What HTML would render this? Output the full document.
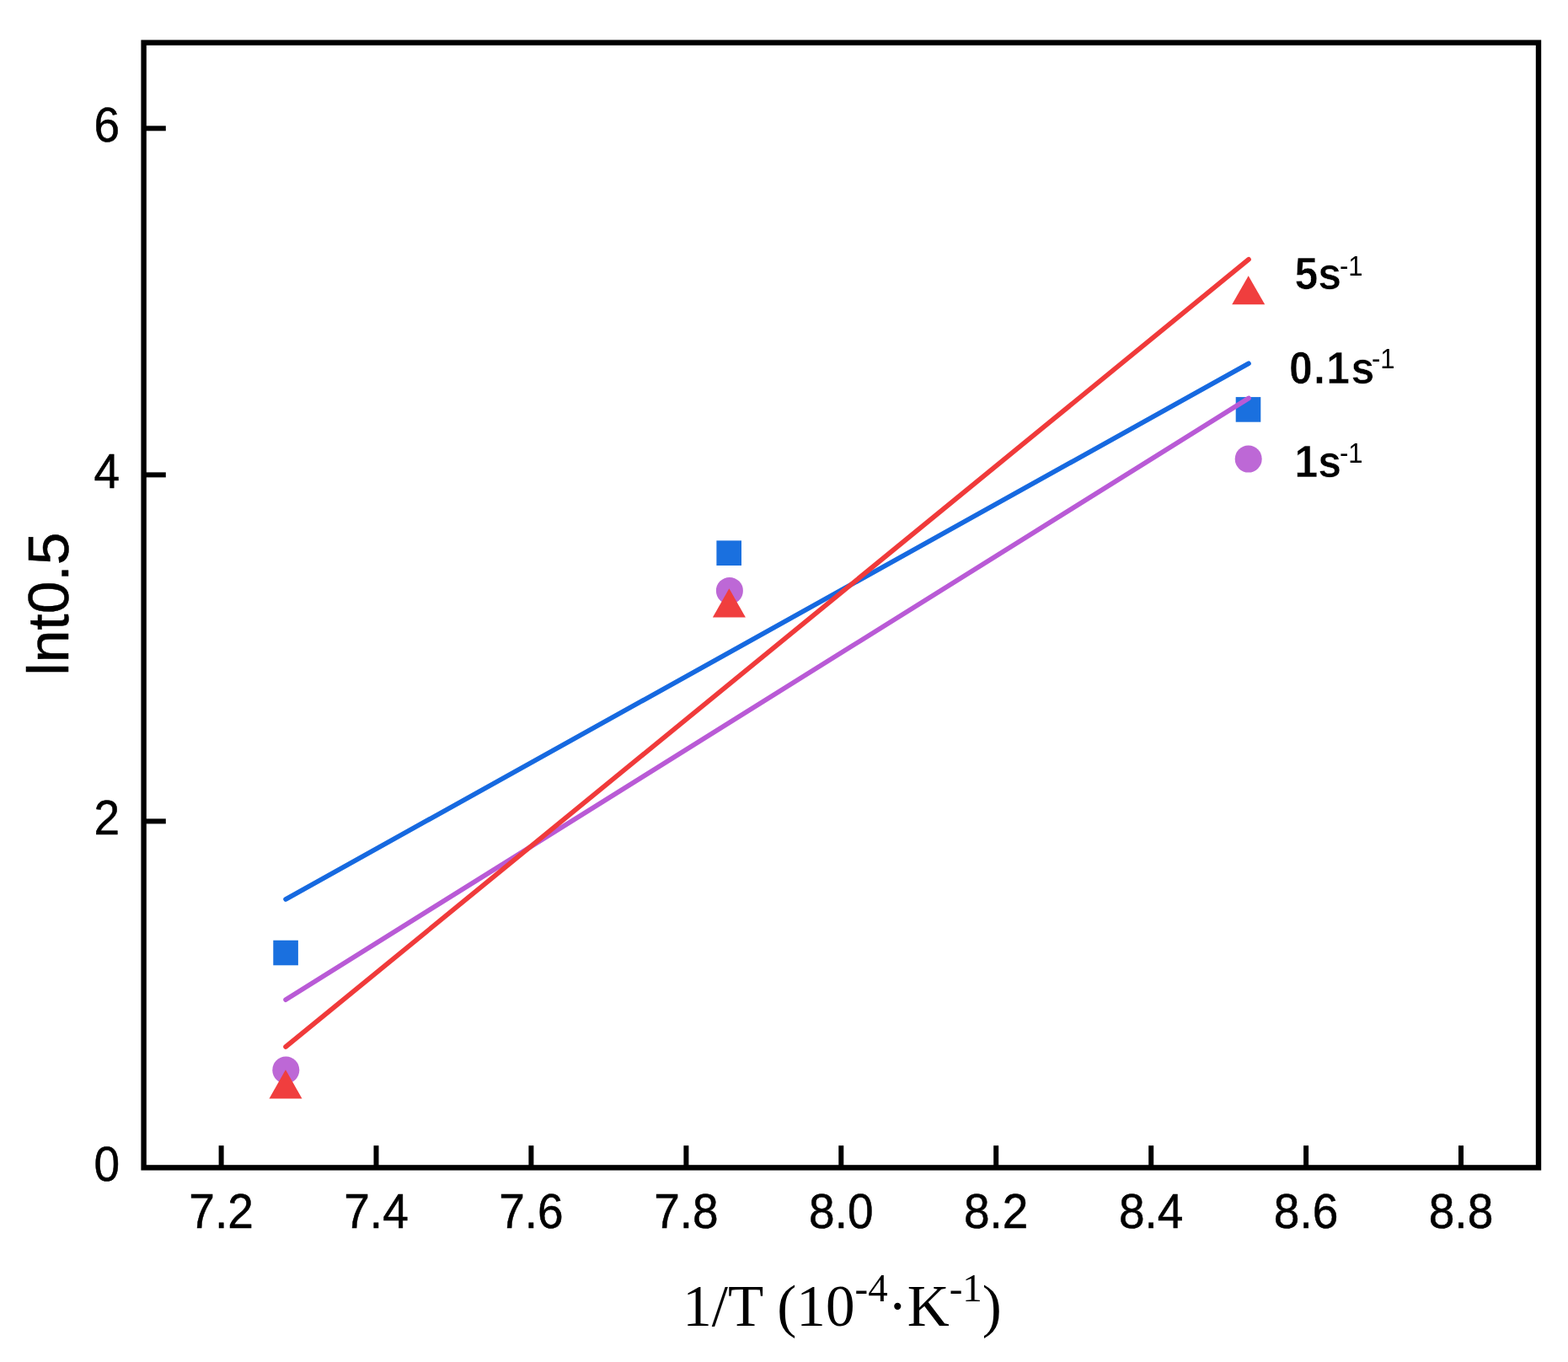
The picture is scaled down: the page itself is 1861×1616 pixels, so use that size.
<!DOCTYPE html>
<html><head><meta charset="utf-8"><style>
html,body{margin:0;padding:0;background:#fff;}
body{width:1861px;height:1616px;overflow:hidden;}
svg{display:block;}
.t{font-family:"Liberation Sans",Arial,sans-serif;fill:#000;}
.lg{stroke:#fff;stroke-width:0.5px;}
.tk{stroke:#000;stroke-width:0.5px;}
.s{font-family:"Liberation Serif","Times New Roman",serif;fill:#000;}
</style></head><body>
<svg width="1861" height="1616" viewBox="0 0 1861 1616">
<rect x="0" y="0" width="1861" height="1616" fill="#fff"/>

<line x1="339.1" y1="1066.9" x2="1482" y2="431.3" stroke="#1669e0" stroke-width="5.7" stroke-linecap="round"/>
<rect x="324.3" y="1115.7" width="29.6" height="29.6" fill="#1a70df"/>
<rect x="850.4" y="641.4" width="29.6" height="29.6" fill="#1a70df"/>
<rect x="1466.7" y="471.1" width="29.6" height="29.6" fill="#1a70df"/>
<line x1="339.1" y1="1186.2" x2="1482" y2="472.5" stroke="#b95ad6" stroke-width="5.7" stroke-linecap="round"/>
<circle cx="339.3" cy="1269.6" r="16" fill="#bd68d6"/>
<circle cx="865.9" cy="700.9" r="16" fill="#bd68d6"/>
<circle cx="1481.7" cy="544.6" r="16" fill="#bd68d6"/>
<line x1="339.1" y1="1242.0" x2="1482" y2="307.8" stroke="#f03a3a" stroke-width="5.7" stroke-linecap="round"/>
<polygon points="339.0,1269.2 358.5,1303.5 319.5,1303.5" fill="#f03e3e"/>
<polygon points="865.4,698.3 884.9,732.4 845.9,732.4" fill="#f03e3e"/>
<polygon points="1481.7,327.2 1501.2,361.3 1462.2,361.3" fill="#f03e3e"/>
<rect x="170.6" y="50.6" width="1655.4" height="1334.8" fill="none" stroke="#000" stroke-width="6.4" stroke-linecap="square"/>
<text class="t tk" transform="translate(142,1401.0) scale(1,1.04)" font-size="55" text-anchor="end">0</text>
<line x1="170.6" y1="974.4" x2="196.8" y2="974.4" stroke="#000" stroke-width="6"/>
<text class="t tk" transform="translate(142,989.9) scale(1,1.04)" font-size="55" text-anchor="end">2</text>
<line x1="170.6" y1="563.4" x2="196.8" y2="563.4" stroke="#000" stroke-width="6"/>
<text class="t tk" transform="translate(142,578.9) scale(1,1.04)" font-size="55" text-anchor="end">4</text>
<line x1="170.6" y1="152.3" x2="196.8" y2="152.3" stroke="#000" stroke-width="6"/>
<text class="t tk" transform="translate(142,167.8) scale(1,1.04)" font-size="55" text-anchor="end">6</text>
<line x1="262.6" y1="1385.4" x2="262.6" y2="1359.2" stroke="#000" stroke-width="6"/>
<text class="t tk" transform="translate(262.6,1456.5) scale(1,1.04)" font-size="55" text-anchor="middle">7.2</text>
<line x1="446.5" y1="1385.4" x2="446.5" y2="1359.2" stroke="#000" stroke-width="6"/>
<text class="t tk" transform="translate(446.5,1456.5) scale(1,1.04)" font-size="55" text-anchor="middle">7.4</text>
<line x1="630.4" y1="1385.4" x2="630.4" y2="1359.2" stroke="#000" stroke-width="6"/>
<text class="t tk" transform="translate(630.4,1456.5) scale(1,1.04)" font-size="55" text-anchor="middle">7.6</text>
<line x1="814.4" y1="1385.4" x2="814.4" y2="1359.2" stroke="#000" stroke-width="6"/>
<text class="t tk" transform="translate(814.4,1456.5) scale(1,1.04)" font-size="55" text-anchor="middle">7.8</text>
<line x1="998.3" y1="1385.4" x2="998.3" y2="1359.2" stroke="#000" stroke-width="6"/>
<text class="t tk" transform="translate(998.3,1456.5) scale(1,1.04)" font-size="55" text-anchor="middle">8.0</text>
<line x1="1182.2" y1="1385.4" x2="1182.2" y2="1359.2" stroke="#000" stroke-width="6"/>
<text class="t tk" transform="translate(1182.2,1456.5) scale(1,1.04)" font-size="55" text-anchor="middle">8.2</text>
<line x1="1366.2" y1="1385.4" x2="1366.2" y2="1359.2" stroke="#000" stroke-width="6"/>
<text class="t tk" transform="translate(1366.2,1456.5) scale(1,1.04)" font-size="55" text-anchor="middle">8.4</text>
<line x1="1550.1" y1="1385.4" x2="1550.1" y2="1359.2" stroke="#000" stroke-width="6"/>
<text class="t tk" transform="translate(1550.1,1456.5) scale(1,1.04)" font-size="55" text-anchor="middle">8.6</text>
<line x1="1734.0" y1="1385.4" x2="1734.0" y2="1359.2" stroke="#000" stroke-width="6"/>
<text class="t tk" transform="translate(1734.0,1456.5) scale(1,1.04)" font-size="55" text-anchor="middle">8.8</text>
<text class="t tk" transform="translate(81.3,716.7) rotate(-90) scale(1.023,1)" font-size="68" text-anchor="middle">lnt0.5</text>
<text class="s" x="999.5" y="1573.4" font-size="69.2" text-anchor="middle">1/T (10<tspan font-size="47" dy="-29">-4</tspan><tspan dy="29">·K</tspan><tspan font-size="47" dy="-29">-1</tspan><tspan dy="29">)</tspan></text>
<text class="t lg" transform="translate(1536.5,342.8) scale(1,1.06)" font-size="50" font-weight="bold" letter-spacing="0">5s</text><text class="t" transform="translate(1590,326.7) scale(1,1.06)" font-size="31">-1</text>
<text class="t lg" transform="translate(1530,454.6) scale(1,1.06)" font-size="50" font-weight="bold" letter-spacing="1.3">0.1s</text><text class="t" transform="translate(1628,436.9) scale(1,1.06)" font-size="31">-1</text>
<text class="t lg" transform="translate(1536.5,566.2) scale(1,1.06)" font-size="50" font-weight="bold" letter-spacing="0">1s</text><text class="t" transform="translate(1590,549) scale(1,1.06)" font-size="31">-1</text>
</svg>
</body></html>
